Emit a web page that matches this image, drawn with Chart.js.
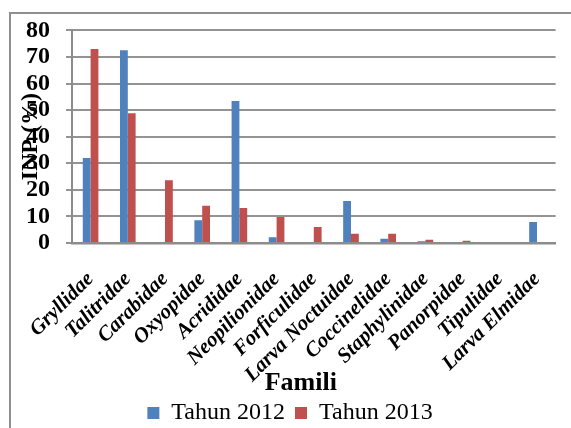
<!DOCTYPE html>
<html><head><meta charset="utf-8">
<script src="https://cdn.jsdelivr.net/npm/chart.js@4"></script>
<style>
html,body{margin:0;padding:0;background:#fff;}
#wrap{position:relative;width:571px;height:428px;overflow:hidden;}
#frame{position:absolute;left:9px;top:12px;width:600px;height:500px;border-left:2px solid #8f8f8f;border-top:2px solid #8f8f8f;}
canvas{position:absolute;left:0;top:0;}
</style></head><body>
<div id="wrap"><div id="frame"></div><canvas id="c" width="571" height="428"></canvas></div>
<script>
const categories = ['Gryllidae','Talitridae','Carabidae','Oxyopidae','Acrididae','Neopilionidae','Forficulidae','Larva Noctuidae','Coccinelidae','Staphylinidae','Panorpidae','Tipulidae','Larva Elmidae'];
const tahun2012 = [32, 72.5, 0, 8.6, 53.4, 2.2, 0, 15.8, 1.6, 0.7, 0, 0.4, 7.9];
const tahun2013 = [73, 48.8, 23.6, 14, 13.2, 9.8, 6, 3.5, 3.5, 1.2, 0.8, 0, 0];
const yMin = 0, yMax = 80, yStep = 10;
const seriesNames = ['Tahun 2012', 'Tahun 2013'];
const xTitle = 'Famili';
const yTitle = 'INP (%)';

Chart.defaults.font.family = '"Liberation Serif", "Times New Roman", serif';
Chart.defaults.color = '#000';

const xTitlePlugin = {
  id: 'xTitlePlugin',
  afterDraw(chart) {
    const ctx = chart.ctx, a = chart.chartArea, sx = chart.scales.x;
    ctx.save();
    ctx.font = 'bold 26px "Liberation Serif", serif';
    ctx.fillStyle = '#000';
    ctx.textAlign = 'center';
    ctx.textBaseline = 'alphabetic';
    ctx.fillText(xTitle, (a.left + a.right) / 2 - 13, sx.bottom - 1);
    ctx.restore();
  }
};

new Chart(document.getElementById('c'), {
  type: 'bar',
  data: {
    labels: categories,
    datasets: [
      { label: seriesNames[0], data: tahun2012, backgroundColor: '#4F81BD', categoryPercentage: 0.42, barPercentage: 1.0 },
      { label: seriesNames[1], data: tahun2013, backgroundColor: '#C0504D', categoryPercentage: 0.42, barPercentage: 1.0 }
    ]
  },
  options: {
    responsive: false,
    animation: false,
    layout: { padding: { left: 14, right: 5, top: 29, bottom: -7 } },
    plugins: {
      legend: {
        position: 'bottom',
        labels: { boxWidth: 12, boxHeight: 12, padding: 10, font: { size: 24 }, color: '#000' }
      },
      tooltip: { enabled: false }
    },
    scales: {
      x: {
        grid: { display: false },
        border: { display: true, color: '#8c8c8c', width: 2.5 },
        ticks: { autoSkip: false, maxRotation: 45, minRotation: 45, padding: 16,
                 font: { size: 21, weight: 'bold', style: 'italic' }, color: '#000' },
        afterFit(s) { s.height = 148; }
      },
      y: {
        min: yMin, max: yMax,
        ticks: { stepSize: yStep, autoSkip: false, padding: 16, font: { size: 24, weight: 'bold' }, color: '#000' },
        grid: { color: '#939393', lineWidth: 2, tickLength: 6 },
        border: { color: '#8c8c8c', width: 2 },
        title: { display: true, text: yTitle, font: { size: 24, weight: 'bold' }, padding: { top: 2, bottom: 0 }, color: '#000' },
        afterFit(s) { s.width = 58; }
      }
    }
  },
  plugins: [xTitlePlugin]
});
</script>
</body></html>
